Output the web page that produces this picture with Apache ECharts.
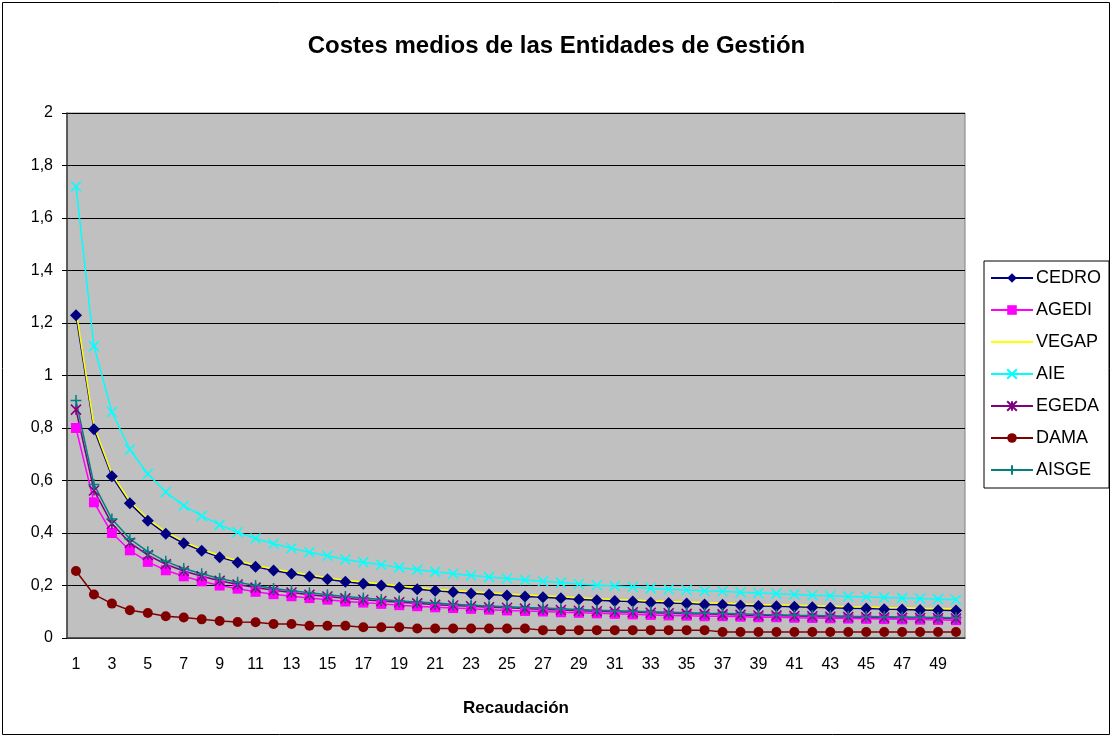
<!DOCTYPE html>
<html>
<head>
<meta charset="utf-8">
<title>Costes medios de las Entidades de Gestión</title>
<script src="https://cdn.jsdelivr.net/npm/echarts@6/dist/echarts.min.js"></script>
<style>
    html, body { margin: 0; padding: 0; background: #fff; }
    #chart { width: 1113px; height: 738px; }
</style>
</head>
<body>
<div id="chart"></div>
<script>
function getID(ID) {
    return document.getElementById(ID);
}

// datos
var recaudacion = [];
for (var i = 1; i <= 50; i++) {
    recaudacion.push(String(i));
}
var yTicks = [0, 0.2, 0.4, 0.6, 0.8, 1, 1.2, 1.4, 1.6, 1.8, 2];

var cedro = [1.230, 0.795, 0.616, 0.513, 0.447, 0.397, 0.361, 0.332, 0.308, 0.288,
    0.271, 0.257, 0.245, 0.234, 0.224, 0.214, 0.207, 0.200, 0.192, 0.186,
    0.180, 0.175, 0.170, 0.166, 0.162, 0.158, 0.155, 0.151, 0.147, 0.144,
    0.141, 0.139, 0.135, 0.133, 0.131, 0.128, 0.127, 0.124, 0.122, 0.121,
    0.119, 0.117, 0.115, 0.113, 0.112, 0.110, 0.109, 0.107, 0.106, 0.105];
var agedi = [0.800, 0.517, 0.400, 0.334, 0.290, 0.258, 0.235, 0.216, 0.200, 0.188,
    0.176, 0.167, 0.159, 0.152, 0.146, 0.139, 0.135, 0.130, 0.125, 0.121,
    0.117, 0.114, 0.111, 0.108, 0.105, 0.103, 0.101, 0.098, 0.096, 0.094,
    0.092, 0.090, 0.088, 0.086, 0.085, 0.083, 0.083, 0.081, 0.079, 0.079,
    0.077, 0.076, 0.075, 0.074, 0.073, 0.072, 0.071, 0.070, 0.069, 0.068];
var vegap = [1.250, 0.808, 0.625, 0.521, 0.454, 0.404, 0.367, 0.338, 0.314, 0.294,
    0.277, 0.263, 0.251, 0.240, 0.230, 0.220, 0.213, 0.206, 0.198, 0.192,
    0.186, 0.181, 0.176, 0.172, 0.168, 0.164, 0.161, 0.157, 0.153, 0.150,
    0.147, 0.145, 0.141, 0.139, 0.137, 0.134, 0.133, 0.130, 0.128, 0.127,
    0.125, 0.123, 0.121, 0.119, 0.118, 0.116, 0.115, 0.113, 0.112, 0.111];
var aie = [1.720, 1.112, 0.861, 0.718, 0.625, 0.556, 0.504, 0.465, 0.431, 0.403,
    0.379, 0.359, 0.342, 0.327, 0.313, 0.299, 0.289, 0.279, 0.269, 0.260,
    0.252, 0.245, 0.238, 0.232, 0.227, 0.221, 0.216, 0.211, 0.206, 0.201,
    0.198, 0.194, 0.189, 0.186, 0.183, 0.179, 0.178, 0.174, 0.171, 0.169,
    0.166, 0.163, 0.161, 0.158, 0.156, 0.154, 0.152, 0.150, 0.148, 0.146];
var egeda = [0.870, 0.562, 0.435, 0.363, 0.316, 0.281, 0.255, 0.235, 0.218, 0.204,
    0.192, 0.182, 0.173, 0.165, 0.158, 0.151, 0.146, 0.141, 0.136, 0.132,
    0.127, 0.124, 0.121, 0.117, 0.115, 0.112, 0.109, 0.107, 0.104, 0.102,
    0.100, 0.098, 0.096, 0.094, 0.092, 0.091, 0.090, 0.088, 0.086, 0.086,
    0.084, 0.083, 0.081, 0.080, 0.079, 0.078, 0.077, 0.076, 0.075, 0.074];
var dama = [0.255, 0.166, 0.131, 0.106, 0.095, 0.083, 0.078, 0.071, 0.065, 0.061,
    0.060, 0.053, 0.053, 0.047, 0.047, 0.047, 0.041, 0.041, 0.041, 0.036,
    0.036, 0.036, 0.036, 0.036, 0.036, 0.036, 0.030, 0.030, 0.030, 0.030,
    0.030, 0.030, 0.030, 0.030, 0.030, 0.030, 0.023, 0.023, 0.023, 0.023,
    0.023, 0.023, 0.023, 0.023, 0.023, 0.023, 0.023, 0.023, 0.023, 0.023];
var aisge = [0.905, 0.585, 0.453, 0.378, 0.329, 0.292, 0.265, 0.245, 0.227, 0.212,
    0.200, 0.189, 0.180, 0.172, 0.165, 0.158, 0.152, 0.147, 0.141, 0.137,
    0.133, 0.129, 0.125, 0.122, 0.119, 0.116, 0.114, 0.111, 0.109, 0.106,
    0.104, 0.102, 0.100, 0.098, 0.096, 0.094, 0.093, 0.092, 0.090, 0.089,
    0.087, 0.086, 0.085, 0.083, 0.082, 0.081, 0.080, 0.079, 0.078, 0.077];

var fuente = '"Liberation Sans", Arial, sans-serif';

function serie(nombre, datos, color, simbolo, tam, trazo) {
    var s = {
        name: nombre,
        type: 'line',
        data: datos,
        symbol: simbolo,
        symbolSize: tam,
        showSymbol: simbolo != 'none',
        showAllSymbol: true,
        lineStyle: { color: color, width: 1.5 },
        itemStyle: { color: color, borderColor: color, borderWidth: trazo ? 1.5 : 0 },
        emphasis: { disabled: true },
        z: 3
    };
    return s;
}

var myChart = echarts.init(getID('chart'));
var option = {
    animation: false,
    backgroundColor: '#fff',
    title: {
        text: 'Costes medios de las Entidades de Gestión',
        left: 'center',
        top: 29,
        textStyle: { fontFamily: fuente, fontSize: 24, fontWeight: 'bold', color: '#000' }
    },
    graphic: [{
        type: 'rect',
        shape: { x: 2.5, y: 2.5, width: 1107, height: 732 },
        style: { fill: 'none', stroke: '#000', lineWidth: 1 },
        silent: true
    }],
    legend: {
        orient: 'vertical',
        left: 984,
        top: 261,
        padding: [8, 8, 9, 6],
        itemGap: 14,
        itemWidth: 42,
        itemHeight: 12,
        borderColor: '#000',
        borderWidth: 1,
        backgroundColor: '#fff',
        textStyle: { fontFamily: fuente, fontSize: 18, color: '#000', padding: [0, 0, 0, -2] },
        data: ['CEDRO', 'AGEDI', { name: 'VEGAP', itemStyle: { opacity: 0 } }, 'AIE', 'EGEDA', 'DAMA', 'AISGE']
    },
    grid: {
        left: 67,
        right: 148,
        top: 113,
        bottom: 100,
        show: true,
        backgroundColor: '#C0C0C0',
        borderColor: '#808080',
        borderWidth: 1
    },
    xAxis: {
        type: 'category',
        data: recaudacion,
        boundaryGap: true,
        name: 'Recaudación',
        nameLocation: 'middle',
        nameGap: 62,
        nameTextStyle: { fontFamily: fuente, fontSize: 17, fontWeight: 'bold', color: '#000' },
        axisLine: { lineStyle: { color: '#404040', width: 1.5 } },
        axisTick: { interval: 0, length: 5, lineStyle: { color: '#000' } },
        axisLabel: { interval: 1, margin: 19, fontFamily: fuente, fontSize: 16, color: '#000' },
        splitLine: { show: false }
    },
    yAxis: {
        type: 'value',
        min: yTicks[0],
        max: yTicks[yTicks.length - 1],
        interval: 0.2,
        axisLine: { show: true, lineStyle: { color: '#404040', width: 1.5 } },
        axisTick: { show: true, length: 5, lineStyle: { color: '#000' } },
        axisLabel: {
            margin: 14,
            fontFamily: fuente,
            fontSize: 16,
            color: '#000',
            formatter: function (v) {
                return String(+v.toFixed(1)).replace('.', ',');
            }
        },
        splitLine: { lineStyle: { color: '#000', width: 1 } }
    },
    series: [
        serie('CEDRO', cedro, '#000080', 'diamond', 12, false),
        serie('AGEDI', agedi, '#FF00FF', 'rect', 10, false),
        serie('VEGAP', vegap, '#FFFF00', 'none', 0, false),
        serie('AIE', aie, '#00FFFF', 'path://M0,0L10,10M10,0L0,10', 10, true),
        serie('EGEDA', egeda, '#800080', 'path://M0,0L10,10M10,0L0,10M5,0L5,10', 10, true),
        serie('DAMA', dama, '#800000', 'circle', 10, false),
        serie('AISGE', aisge, '#008080', 'path://M5,0L5,10M0,5L10,5', 11, true)
    ]
};
myChart.setOption(option);
</script>
</body>
</html>
